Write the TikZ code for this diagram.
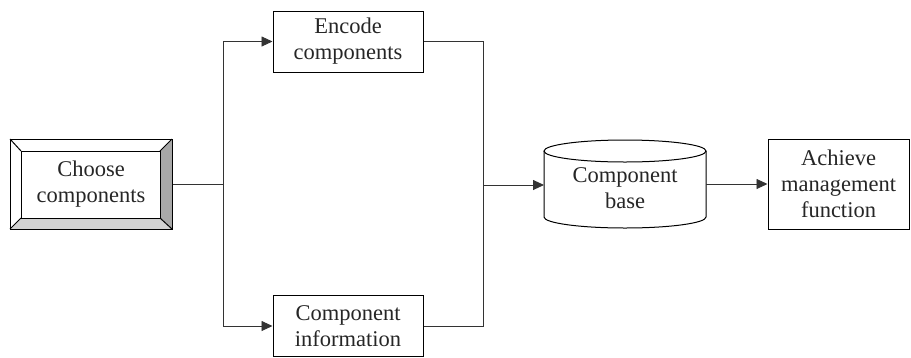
\documentclass[tikz,border=0pt]{standalone}
\usepackage{fontspec}
\setmainfont{Liberation Serif}
\usetikzlibrary{arrows.meta,calc}
\definecolor{bevelright}{HTML}{A8A8A8}
\definecolor{bevelbottom}{HTML}{D2D2D2}
\begin{document}
\begin{tikzpicture}[x=1pt,y=-1pt,
  label text/.style={font=\fontsize{22.5}{26}\selectfont, text=black!85},
  box/.style={draw, line width=1pt, rectangle, inner sep=0pt, align=center, label text},
  link/.style={draw=black!80, line width=0.9pt},
  arrowlink/.style={link, -{Triangle[length=11pt,width=10pt]}}]
\useasboundingbox (0,0) rectangle (911,357);

% bevelled start box (outer frame plus inner face)
\coordinate (oNW) at (10,139);  \coordinate (oNE) at (172,139);
\coordinate (oSE) at (172,229); \coordinate (oSW) at (10,229);
\coordinate (iNW) at (21,151);  \coordinate (iNE) at (160,151);
\coordinate (iSE) at (160,218); \coordinate (iSW) at (21,218);
\fill[bevelright] (oNE) -- (oSE) -- (iSE) -- (iNE) -- cycle;
\fill[bevelbottom] (oSW) -- (oSE) -- (iSE) -- (iSW) -- cycle;
\draw[line width=1pt] (oNW) -- (iNW) (oNE) -- (iNE) (oSE) -- (iSE) (oSW) -- (iSW);
\draw[line width=1pt] (iNW) rectangle (iSE);
\node[box, minimum width=162pt, minimum height=90pt] (choose) at (91,184)
  {Choose\\components};

\node[box, minimum width=150pt, minimum height=61pt] (encode) at (348,41.5)
  {Encode\\components};
\node[box, minimum width=150pt, minimum height=61pt] (info) at (348,326)
  {Component\\information};
\node[box, minimum width=141pt, minimum height=90pt] (achieve) at (838.5,184)
  {Achieve\\management\\function};

% database cylinder
\node[inner sep=0pt, minimum width=162pt, minimum height=88pt, align=center,
  label text] (base) at (625,188) {Component\\base};
\begin{scope}[line width=1pt]
  \draw (544,151) -- (544,217) arc[start angle=180, end angle=0, x radius=81, y radius=11]
        -- (706,151);
  \draw (625,151) ellipse[x radius=81, y radius=11];
\end{scope}

% connectors
\coordinate (split) at (223,184);
\coordinate (join) at (483,185);
\draw[link] (choose.east) -- (split);
\draw[arrowlink] (split) |- (encode.west);
\draw[arrowlink] (split) |- (info.west);
\draw[link] (encode.east) -| (join);
\draw[link] (info.east) -| (join);
\draw[arrowlink] (join) -- (544,185);
\draw[arrowlink] (706,184) -- (achieve.west);
\end{tikzpicture}
\end{document}
